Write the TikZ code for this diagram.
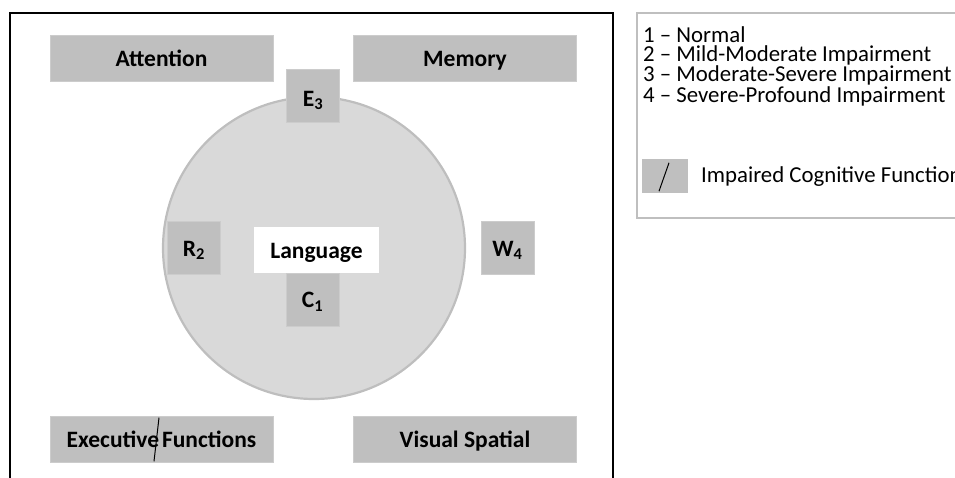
\documentclass[tikz,border=0pt]{standalone}
\usepackage{fontspec}
\setmainfont{Carlito}
\definecolor{boxgray}{RGB}{191,191,191}
\definecolor{circfill}{RGB}{217,217,217}
\definecolor{circline}{RGB}{190,190,190}
\begin{document}
\begin{tikzpicture}[x=1pt,y=-1pt,
  lbl/.style={font=\fontsize{23.5}{25}\selectfont\bfseries,text height=16pt,text depth=0pt},
  bigbox/.style={rectangle,fill=boxgray,draw=boxgray!80!white,line width=0.6pt,minimum width=223pt,minimum height=46pt,inner sep=0pt,lbl},
  smallbox/.style={rectangle,fill=boxgray,draw=boxgray!80!white,line width=0.6pt,minimum width=53pt,minimum height=53pt,inner sep=0pt,lbl},
  legtext/.style={anchor=west,inner sep=0pt,font=\fontsize{22.8}{24}\selectfont,text height=14.7pt,text depth=0pt}]
\useasboundingbox (0,0) rectangle (955,477);
\clip (0,0) rectangle (955,477);
% main frame
\draw[line width=2pt] (10,490) -- (10,13) -- (613,13) -- (613,490);
% legend frame
\draw[line width=2pt,draw=boxgray] (965,13) -- (637,13) -- (637,218) -- (965,218);
% circle
\node[circle,fill=circfill,draw=circline,line width=2.2pt,minimum size=302pt,inner sep=0pt] (circ) at (314,248) {};
% outer boxes
\node[bigbox] (att) at (161.5,58) {Attention};
\node[bigbox] (mem) at (465,58) {Memory};
\node[bigbox] (exe) at (161.5,439.5) {Executive\hspace{3pt}Functions};
\node[bigbox] (vis) at (465,439.5) {Visual Spatial};
\draw[line width=1pt] ([xshift=-2.5pt,yshift=-1.5pt]exe.north) -- ([xshift=-7.5pt,yshift=1.5pt]exe.south);
% inner boxes
\node[smallbox] (e3) at (313,95.5) {\raisebox{-2.5pt}{E\textsubscript{3}}};
\node[smallbox] (r2) at (194,248) {R\textsubscript{2}};
\node[smallbox] (w4) at (507.5,248) {W\textsubscript{4}};
\node[rectangle,fill=white,minimum width=125pt,minimum height=46pt,inner sep=0pt,lbl] (lang) at (316.5,250) {Language};
\node[smallbox,anchor=north] (c1) at (312.5,273) {C\textsubscript{1}};
% legend
\node[anchor=base west,inner sep=0pt] (scale) at (643,42.7) {\parbox[t]{400pt}{\raggedright\fontsize{22.8}{18.6}\selectfont
  1 – Normal\\
  2 – Mild-Moderate Impairment\\
  3 – Moderate-Severe Impairment\\
  4 – Severe-Profound Impairment}};
\node[rectangle,fill=boxgray,minimum width=46pt,minimum height=34pt,inner sep=0pt] (lbox) at (665,176) {};
\draw[line width=1pt] ([xshift=4pt,yshift=-4pt]lbox.north) -- ([xshift=-6pt,yshift=2pt]lbox.south);
\node[legtext] (l5) at (701,175) {Impaired Cognitive Function};
\end{tikzpicture}
\end{document}
